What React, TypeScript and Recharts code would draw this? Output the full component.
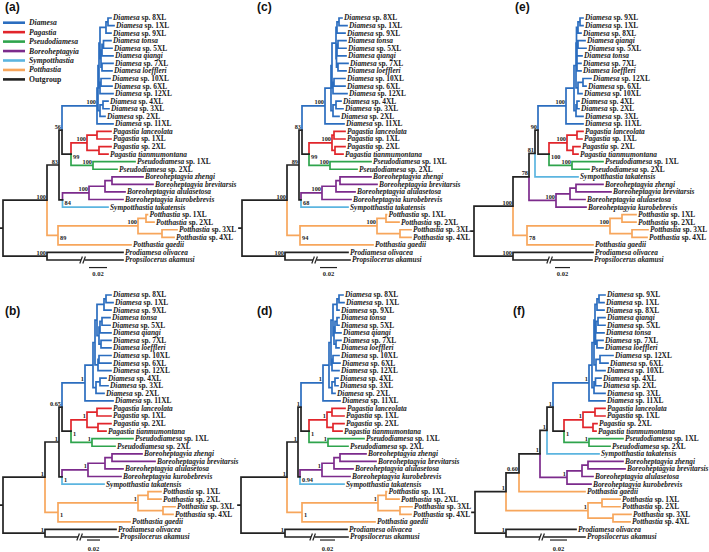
import React from 'react';
import { ComposedChart, Line, Scatter, XAxis, YAxis, Legend } from 'recharts';

// ---------------- data ----------------
const GROUP_NAMES = ['Diamesa', 'Pagastia', 'Pseudodiamesa', 'Boreoheptagyia', 'Sympotthastia', 'Potthastia', 'Outgroup'];
const GROUP_PREFIX = ['D', 'P', 'S', 'B', 'Y', 'T', 'O'];
const GROUP_COLORS = ['#2b6dbf', '#e1252b', '#2ea44c', '#7c2b8c', '#5cb5e0', '#f7a65c', '#222222'];

const LEAF_CODES = ['D8', 'D1', 'D9', 'Dt', 'D5', 'Dq', 'D7', 'Dl', 'D10', 'D6', 'D12', 'D4', 'D3', 'D2', 'D11',
  'Pl', 'P1', 'P2', 'Pt', 'S1', 'S2', 'Bz', 'Bb', 'Ba', 'Bk', 'Yt', 'T1', 'T2', 'T3', 'T4', 'Tg', 'Oo', 'Oa'];
const LEAF_LABELS = ['Diamesa sp. 8XL', 'Diamesa sp. 1XL', 'Diamesa sp. 9XL', 'Diamesa tonsa', 'Diamesa sp. 5XL',
  'Diamesa qiangi', 'Diamesa sp. 7XL', 'Diamesa loeffleri', 'Diamesa sp. 10XL', 'Diamesa sp. 6XL', 'Diamesa sp. 12XL',
  'Diamesa sp. 4XL', 'Diamesa sp. 3XL', 'Diamesa sp. 2XL', 'Diamesa sp. 11XL', 'Pagastia lanceolata', 'Pagastia sp. 1XL',
  'Pagastia sp. 2XL', 'Pagastia tianmumontana', 'Pseudodiamesa sp. 1XL', 'Pseudodiamesa sp. 2XL', 'Boreoheptagyia zhengi',
  'Boreoheptagyia brevitarsis', 'Boreoheptagyia alulasetosa', 'Boreoheptagyia kurobebrevis', 'Sympotthastia takatensis',
  'Potthastia sp. 1XL', 'Potthastia sp. 2XL', 'Potthastia sp. 3XL', 'Potthastia sp. 4XL', 'Potthastia gaedii',
  'Prodiamesa olivacea', 'Propsilocerus akamusi'];

// Trees (Newick; number after ":" = node depth position, label "r" = support printed right of node)
const DIA_A = '((((((D8:111,D1:114):108,D9:111):106,(((Dt:111,D5:112):103.5,Dq:113):102,(D7:113,Dl:112):102):101):100,((D10:110,D6:112):101,D12:113):100):99,((D4:108,D3:109):103,D2:105):100):98,D11:113)100:97';
const PAG_A = '((Pl:111,P1:111):97,(P2:111,Pt:108):99)100:87';
const PSE_A = '(S1:135,S2:117)100:93';
const BOR_A = '(((Bz:143,Bb:153):112,Ba:125):105,Bk:123)100:89';
const POT_A = '((T1:147.5,T2:154):146,(T3:177,T4:174):162)100:138';
const TREE_A = `((((${DIA_A},(${PAG_A},${PSE_A})99r:71)56:62,(${BOR_A},Yt:108)84r:62.5)83:59,(${POT_A},Tg:131)89r:58)100:47,(Oo:123,Oa:123)100:47):3`;

const DIA_B = '((((((D8:111,D1:113):106,D9:111):104,(((Dt:110,D5:110):102,Dq:111):100,(D7:111,Dl:111):101):99):97,((D10:111,D6:111):99,D12:111):98):95,((D4:106,D3:108):100,D2:104):96):93,D11:113)1:85';
const PAG_B = '((Pl:111,P1:111):97,(P2:111,Pt:106):98)1:87';
const PSE_B = '(S1:133,S2:115)1:92';
const BOR_B = '(((Bz:142,Bb:155):112,Ba:123):105,Bk:121)1:88';
const POT_B = '((T1:161,T2:161):148,(T3:175,T4:173):163)1:138';
const TREE_B = `((((${DIA_B},(${PAG_B},${PSE_B})1r:71)0.65:62,(${BOR_B},Yt:104)1r:62)1:59,(${POT_B},Tg:130)1r:58)1:45,(Oo:116,Oa:118)1:45):3`;

const DIA_C = '((((((D8:102,D1:107):99,D9:105):97,(((Dt:106,D5:106):98,Dq:106):97,(D7:108,Dl:106):98):96.5):96,((D10:105,D6:105):94,D12:107):93):92,((D4:101,D3:103):96,D2:99):93):91,D11:104)100:85';
const PAG_C = '((Pl:105,P1:105):94,(P2:105,Pt:103):95)100:92';
const PSE_C = '(S1:131,S2:117)100:90';
const BOR_C = '(((Bz:131,Bb:137):100,Ba:115):96,Bk:111)100:82';
const POT_C = '((T1:146.5,T2:159):146,(T3:171,T4:171):160)100:137';
const TREE_C = `((((${DIA_C},(${PAG_C},${PSE_C})99r:69)83:62,(${BOR_C},Yt:108)68r:61)89:59,(${POT_C},Tg:133)94r:60)100:47,(Oo:108,Oa:110)100:45):2`;

const DIA_D = '((((((D8:103,D1:104):99,D9:99):97,(((Dt:99,D5:99):97,Dq:101):95,(D7:101,Dl:99):96):94):93,((D10:99,D6:100):93,D12:99):92):91,((D4:98,D3:98):95,D2:95):92):89,D11:100)1:83';
const PAG_D = '((Pl:105,P1:104):92,(P2:104,Pt:102):93)1:87';
const PSE_D = '(S1:124,S2:108)1:88';
const BOR_D = '(((Bz:126,Bb:136):100,Ba:113):94,Bk:110)1:82';
const POT_D = '((T1:146.5,T2:159):146,(T3:172,T4:171):160)1:138';
const TREE_D = `((((${DIA_D},(${PAG_D},${PSE_D})1r:69)1:61,(${BOR_D},Yt:104)0.94r:60)1:58,(${POT_D},Tg:135)1r:62)1:47,(Oo:107,Oa:108)1:45):1`;

const DIA_E = '((((((D9:113,D1:113):110,D8:111):108,(((Dq:115,D5:116):108,Dt:112):107,(D7:111,Dl:111):107):107):106.5,((D12:121,D6:116):113,D10:112):108):106,((D4:109,D2:109):107,D3:113):106):104,D11:113)100:96';
const PAG_E = '((Pl:113,P1:112):107,(P2:110,Pt:108):103)100:97';
const PSE_E = '(S1:133,S2:119)100:102';
const BOR_E = '(((Bz:133,Bb:141):106,Ba:115):100,Bk:116)100:86';
const POT_E = '((T1:166,T2:166):152,(T3:178,T4:177):162)100:140';
const TREE_E = `(((((${DIA_E},(${PAG_E},${PSE_E})100r:79)90:68,Yt:108)81:65,${BOR_E})78:59,(${POT_E},Tg:123)78r:57)100:43,(Oo:123,Oa:122)100:43):4`;

const DIA_F = '((((((D9:135,D1:134):129,D8:134):127,(((Dq:135,D5:135):128,Dt:134):126,(D7:133,Dl:133):127):125.5):125,((D12:143,D6:138):130,D10:135):126):124,((D4:131,D2:131):125.5,D3:135):124):122,D11:135)1:119';
const PAG_F = '((Pl:135,P1:135):125,(P2:127,Pt:126):123)1:113';
const PSE_F = '(S1:153,S2:140)1:119';
const BOR_F = '(((Bz:153,Bb:155):118,Ba:123):112,Bk:121)1:97';
const POT_F = '((T1:150,T2:150):132,(T3:161,T4:160):143)1:118';
const TREE_F = `((((((${DIA_F},(${PAG_F},${PSE_F})1r:94)1:83,Yt:129)1:77,${BOR_F})1:70,Tg:115)0.60:49,${POT_F})1:36,(Oo:106,Oa:115)1:36):5`;

const PANEL_IDS = ['(a)', '(b)', '(c)', '(d)', '(e)', '(f)'];
const PANEL_TREES = [TREE_A, TREE_B, TREE_C, TREE_D, TREE_E, TREE_F];
const PANEL_LEFT = [0, 0, 240, 240, 470, 470];
const PANEL_ROW = [0, 1, 0, 1, 0, 1];
const BREAK_X = [83, 80, 75, 73, 80, 72];
const SCALE_FROM = [89, 87, 80, 80, 85, 80];
const SCALE_TO = [107, 100, 97, 95, 100, 97];
const SCALE_TEXT = '0.02';
const ROW_TOP = [0, 276.5];
const SCALE_Y = [33.0, 32.4];
const SCALE_TEXT_Y = [33.8, 33.55];
const LABEL_X = [5, 5, 257, 257, 515, 513];
const LABEL_TOP = [1, 305, 1, 305, 1, 305];

// ---------------- tree layout ----------------
type TNode = { name: string; x: number; y: number; genus: string; children: TNode[] };

function parseNewick(src: string): TNode {
  let i = 0;
  const read = (): TNode => {
    const node: TNode = { name: '', x: 0, y: 0, genus: '', children: [] };
    if (src[i] === '(') {
      i++;
      node.children.push(read());
      while (src[i] === ',') { i++; node.children.push(read()); }
      i++;
    }
    let tok = '';
    while (i < src.length && !':,()'.includes(src[i])) tok += src[i++];
    node.name = tok.trim();
    if (src[i] === ':') {
      i++;
      let num = '';
      while (i < src.length && !',()'.includes(src[i])) num += src[i++];
      node.x = parseFloat(num);
    }
    return node;
  };
  return read();
}

function genusOf(code: string): string {
  const k = GROUP_PREFIX.indexOf(code[0]);
  return GROUP_NAMES[k >= 0 ? k : 6];
}

function buildPanel(src: string) {
  const root = parseNewick(src);
  let leafIdx = 0;
  const assign = (n: TNode) => {
    if (!n.children.length) { n.y = leafIdx++; n.genus = genusOf(n.name); return; }
    n.children.forEach(assign);
    n.y = (n.children[0].y + n.children[n.children.length - 1].y) / 2;
    const g = n.children[0].genus;
    n.genus = n.children.every((c) => c.genus === g) ? g : 'Outgroup';
  };
  assign(root);
  const segs: Record<string, { x: number; y: number | null }[]> = {};
  GROUP_NAMES.forEach((g) => { segs[g] = []; });
  const leaves: any[] = [];
  const supports: any[] = [];
  let breakY = 32;
  const walk = (n: TNode, p: TNode | null) => {
    if (p) {
      segs[n.genus].push({ x: p.x, y: p.y }, { x: p.x, y: n.y }, { x: n.x, y: n.y }, { x: n.x, y: null });
    }
    if (!n.children.length) {
      leaves.push({ x: n.x, y: n.y, label: LEAF_LABELS[LEAF_CODES.indexOf(n.name)] });
      if (n.name === 'Oa') breakY = n.y;
    } else if (n.name) {
      const right = n.name.endsWith('r');
      supports.push({ x: n.x, y: n.y, label: right ? n.name.slice(0, -1) : n.name, right });
    }
    n.children.forEach((c) => walk(c, n));
  };
  walk(root, null);
  segs['Outgroup'].push({ x: root.x - 3, y: root.y }, { x: root.x, y: root.y }, { x: root.x, y: null });
  return { segs, leaves, supports, breakY };
}

const BUILT = PANEL_TREES.map(buildPanel);

// ---------------- renderers ----------------
const SERIF = "'Liberation Serif', 'Times New Roman', serif";

function LeafText(props: any) {
  const { cx, cy, payload } = props;
  if (cx == null || cy == null) return null;
  const parts = String(payload.label).split(' sp. ');
  return (
    <text x={cx + 2} y={cy} dy="0.33em" fontFamily={SERIF} fontWeight="bold" fontSize={7.4} fill="#1a1a1a">
      <tspan fontStyle="italic">{parts[0]}</tspan>
      {parts.length > 1 ? <tspan>{' sp. ' + parts[1]}</tspan> : null}
    </text>
  );
}

function SupportText(props: any) {
  const { cx, cy, payload } = props;
  if (cx == null || cy == null) return null;
  if (payload.right) {
    return (
      <text x={cx + 2} y={cy + 2.6} dy="0.33em" fontFamily={SERIF} fontWeight="bold" fontSize={6.3} fill="#222">
        {payload.label}
      </text>
    );
  }
  return (
    <text x={cx - 1} y={cy - 1.5} textAnchor="end" fontFamily={SERIF} fontWeight="bold" fontSize={6.3} fill="#222">
      {payload.label}
    </text>
  );
}

function BreakMark(props: any) {
  const { cx, cy } = props;
  if (cx == null || cy == null) return null;
  return (
    <g>
      <rect x={cx - 2} y={cy - 1.5} width={3.5} height={3} fill="#fff" />
      <line x1={cx - 3.2} y1={cy + 3.5} x2={cx - 0.6} y2={cy - 3.5} stroke="#222" strokeWidth={1.2} />
      <line x1={cx - 0.2} y1={cy + 3.5} x2={cx + 2.4} y2={cy - 3.5} stroke="#222" strokeWidth={1.2} />
    </g>
  );
}

function ScaleText(props: any) {
  const { cx, cy, payload } = props;
  if (cx == null || cy == null) return null;
  return (
    <text x={cx} y={cy} dy="0.33em" textAnchor="middle" fontFamily={SERIF} fontWeight="bold" fontSize={6.5} fill="#222">
      {payload.label}
    </text>
  );
}

function LegendBox() {
  return (
    <svg width={100} height={90} style={{ display: 'block' }}>
      {GROUP_NAMES.map((g, i) => {
        const y = 22.7 + i * 9.45;
        return (
          <g key={g}>
            <line x1={3} x2={25} y1={y} y2={y} stroke={GROUP_COLORS[i]} strokeWidth={2.6} />
            <text x={29} y={y} dy="0.33em" fontFamily={SERIF} fontWeight="bold" fontSize={7.7}
              fontStyle={g === 'Outgroup' ? 'normal' : 'italic'} fill="#1a1a1a">{g}</text>
          </g>
        );
      })}
    </svg>
  );
}

function TreePanel({ index }: { index: number }) {
  const built = BUILT[index];
  const row = PANEL_ROW[index];
  const scaleLine = [{ x: SCALE_FROM[index], y: SCALE_Y[row] }, { x: SCALE_TO[index], y: SCALE_Y[row] }];
  const scaleLabel = [{ x: (SCALE_FROM[index] + SCALE_TO[index]) / 2, y: SCALE_TEXT_Y[row], label: SCALE_TEXT }];
  const breakPt = [{ x: BREAK_X[index], y: built.breakY }];
  return (
    <div style={{ position: 'absolute', left: PANEL_LEFT[index] - 5, top: ROW_TOP[row] }}>
      <ComposedChart width={260} height={276} margin={{ top: 2.875, bottom: 0.875, left: 0, right: 0 }}>
        <XAxis type="number" dataKey="x" domain={[-5, 255]} hide />
        <YAxis type="number" dataKey="y" domain={[-2, 34]} reversed hide />
        {GROUP_NAMES.map((g, gi) => (
          <Line key={g} data={built.segs[g]} dataKey="y" stroke={GROUP_COLORS[gi]} strokeWidth={1.7}
            strokeLinecap="square" dot={false} activeDot={false} connectNulls={false} isAnimationActive={false} />
        ))}
        <Line data={scaleLine} dataKey="y" stroke="#222" strokeWidth={1.2} dot={false} activeDot={false} isAnimationActive={false} />
        <Scatter data={breakPt} shape={BreakMark} isAnimationActive={false} />
        <Scatter data={built.leaves} shape={LeafText} isAnimationActive={false} />
        <Scatter data={built.supports} shape={SupportText} isAnimationActive={false} />
        <Scatter data={scaleLabel} shape={ScaleText} isAnimationActive={false} />
        {index === 0 ? (
          <Legend layout="vertical" align="center" verticalAlign="middle" content={() => <LegendBox />}
            wrapperStyle={{ left: 5, top: 0, width: 100, height: 90 }} />
        ) : null}
      </ComposedChart>
    </div>
  );
}

export default function App() {
  return (
    <div style={{ position: 'absolute', left: 0, top: 0, width: 709, height: 552, overflow: 'hidden', background: '#fff' }}>
      {PANEL_IDS.map((_, i) => <TreePanel key={i} index={i} />)}
      {PANEL_IDS.map((id, i) => (
        <div key={'lab' + i} style={{ position: 'absolute', left: LABEL_X[i], top: LABEL_TOP[i],
          font: "bold 12px 'Liberation Sans', Arial, sans-serif", lineHeight: '12px', color: '#111' }}>{id}</div>
      ))}
    </div>
  );
}
